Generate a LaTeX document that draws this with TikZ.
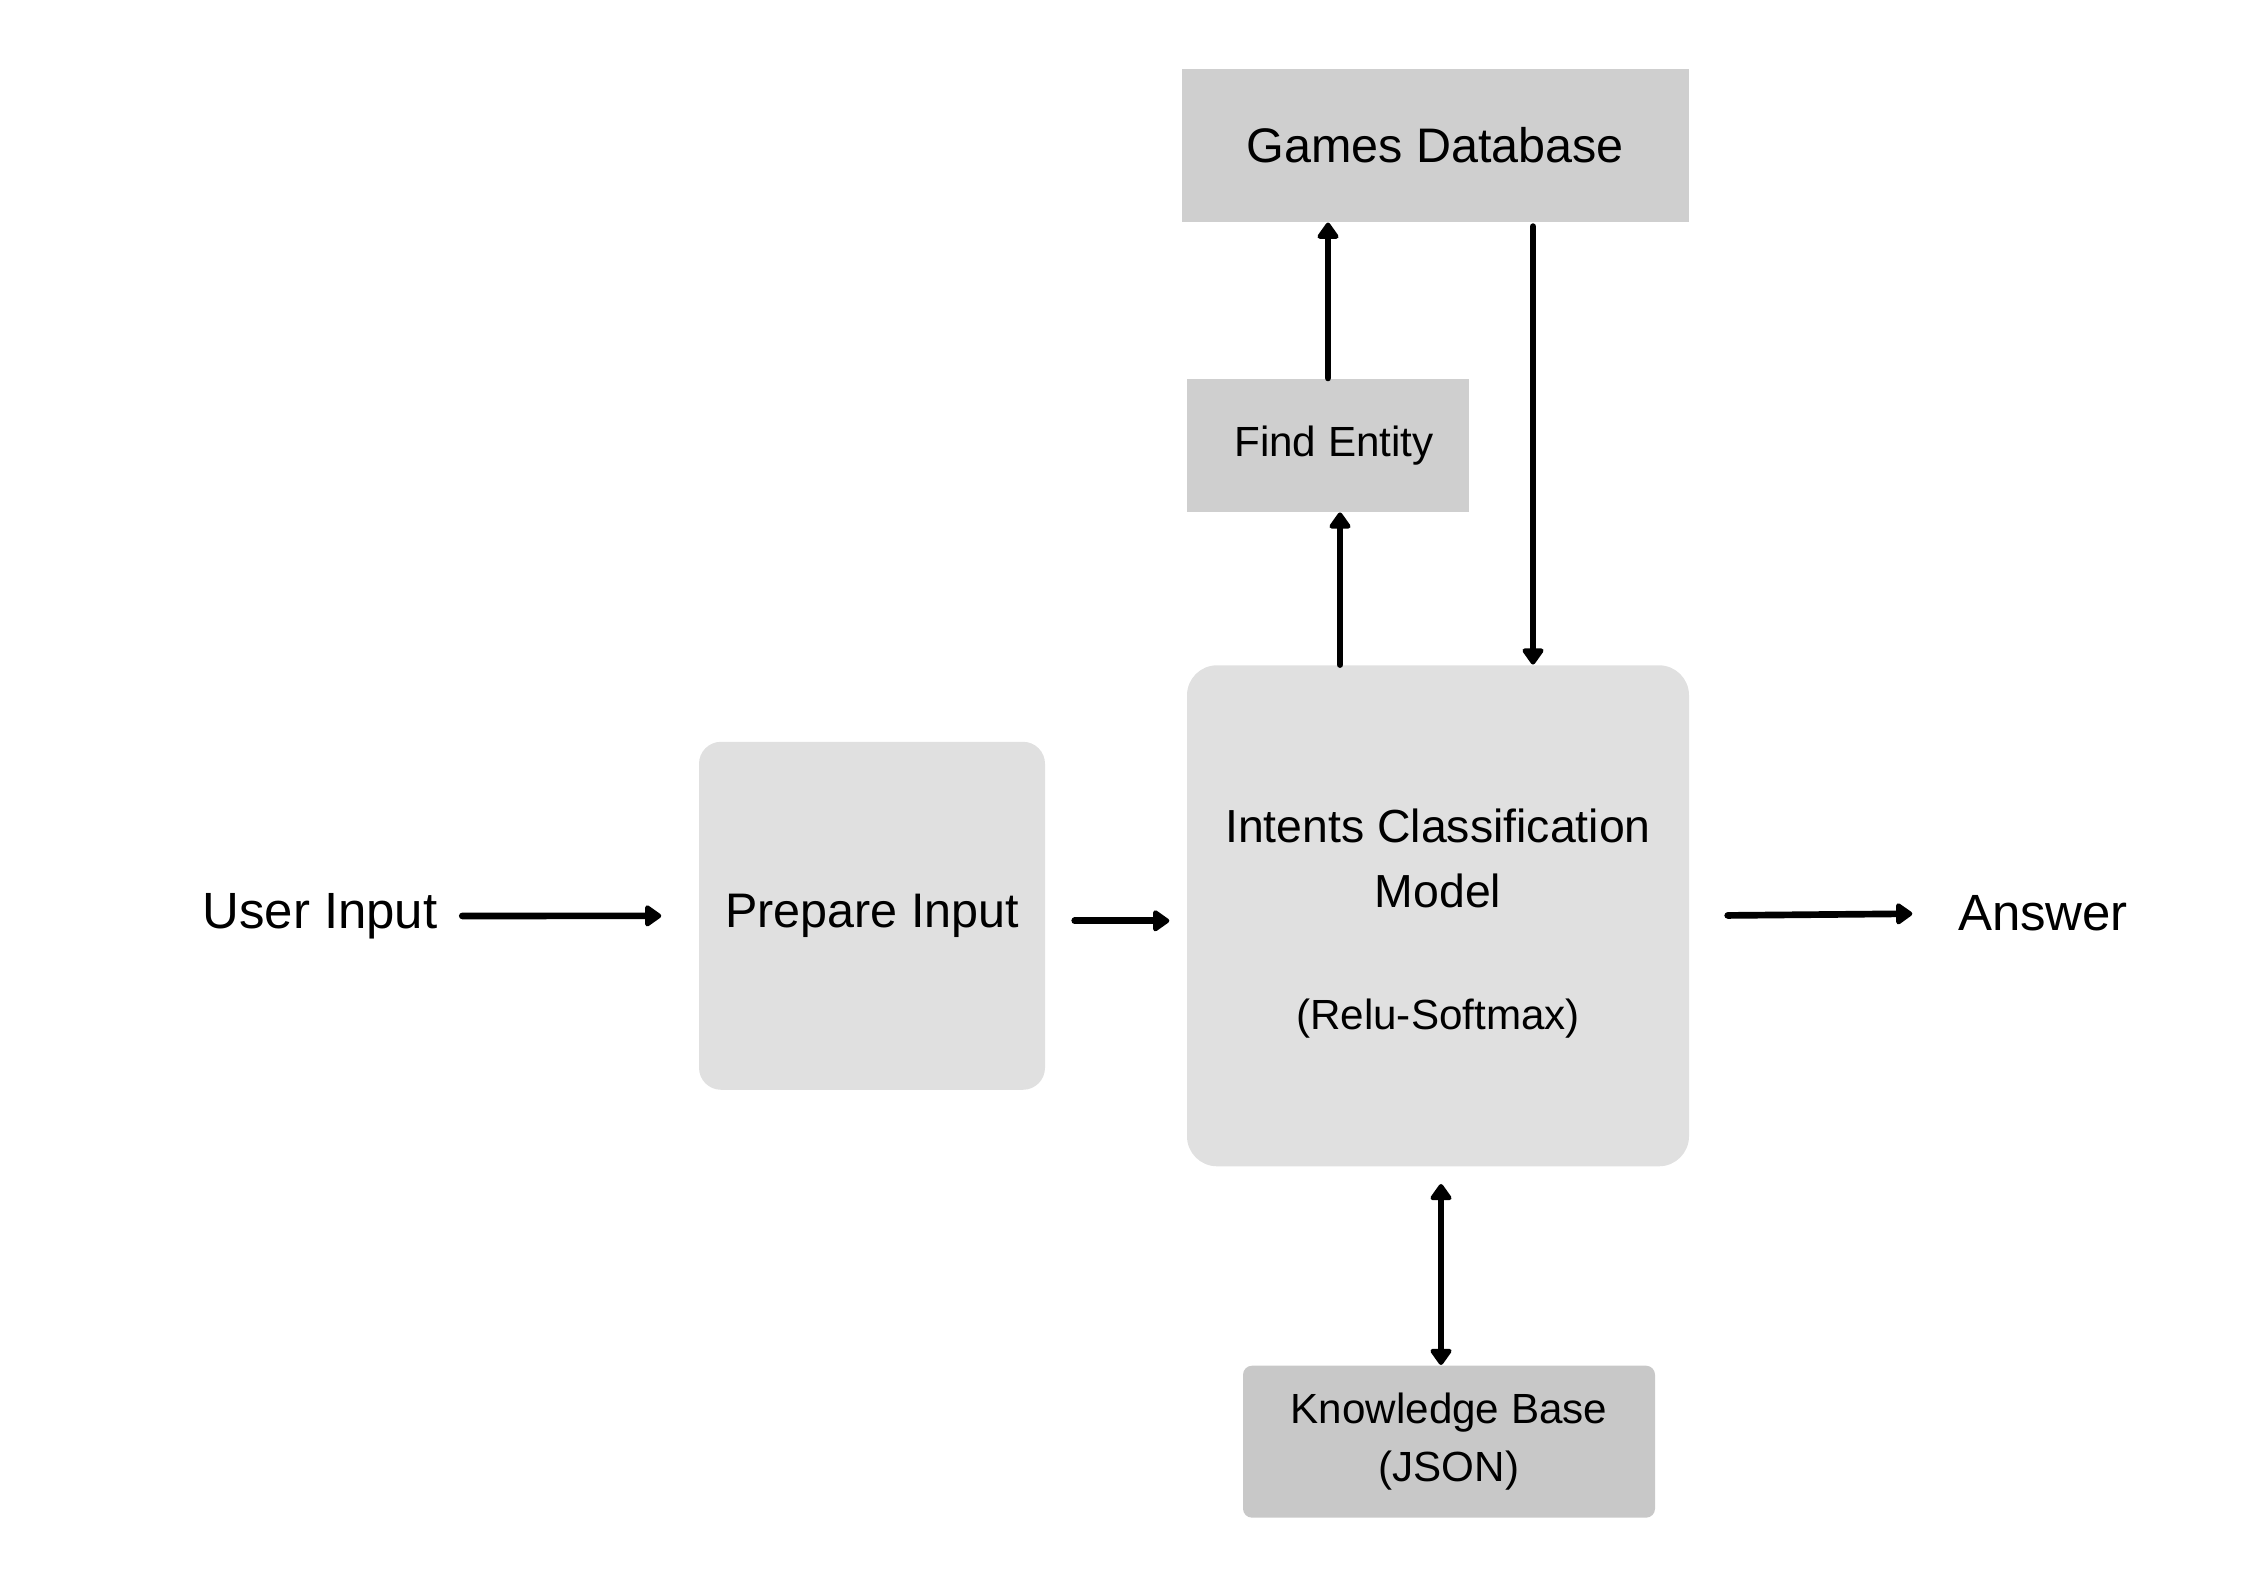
\documentclass[tikz,border=0pt]{standalone}
\usepackage{fontspec}
\setmainfont{Liberation Sans}
\usetikzlibrary{arrows.meta}
\begin{document}
\begin{tikzpicture}[
        caja/.style={fill=#1, inner sep=0pt, align=center},
        texto/.style={inner sep=0pt, font=\fontsize{14.5}{17}\selectfont},
        flecha/.style={-{Triangle[length=1.8mm,width=2.4mm,round]}, line width=1.9pt, line cap=round},
    ]
    %colores
    \colorlet{gris}{black!19}
    \colorlet{grisclaro}{black!12}

    \useasboundingbox (0,0) rectangle (22.45,15.87);

    % cajas
    \node[caja=gris, minimum width=5.07cm, minimum height=1.53cm,
        font=\fontsize{13.8}{17}\selectfont] (games) at (14.35,14.416) {Games Database};
    \node[caja=gris, minimum width=2.82cm, minimum height=1.33cm,
        font=\fontsize{12}{15}\selectfont] (find) at (13.28,11.418) {\hspace{1.2mm}\raisebox{-0.5mm}{Find Entity}};
    \node[caja=grisclaro, rounded corners=3mm, minimum width=5.02cm, minimum height=5.01cm,
        font=\fontsize{13.2}{18.5}\selectfont] (intents) at (14.38,6.712)
        {\rule{0pt}{14pt}Intents Classification\\Model\\[16pt]{\fontsize{12}{18.5}\selectfont(Relu-Softmax)}};
    \node[caja=grisclaro, rounded corners=2.2mm, minimum width=3.46cm, minimum height=3.48cm,
        font=\fontsize{13.8}{17}\selectfont] (prep) at (8.72,6.712) {Prepare Input};
    \node[caja=gris!97!black, rounded corners=0.9mm, minimum width=4.12cm, minimum height=1.52cm,
        font=\fontsize{12}{16.5}\selectfont] (kb) at (14.49,1.453) {Knowledge Base\\(JSON)};

    % entrada y salida
    \node[texto] (user) at (3.20,6.71) {User Input};
    \node[texto] (answer) at (20.43,6.737) {Answer};

    % flechas
    \draw[flecha, shorten <=2.4mm, shorten >=3.7mm] (user) -- (prep);
    \draw[flecha, shorten <=2.9mm, shorten >=1.7mm] ([yshift=-0.5mm]prep.east) -- ([yshift=-0.5mm]intents.west);
    \draw[flecha, shorten <=3.8mm, shorten >=4.5mm] (intents.east) -- (answer.west);
    \draw[flecha] ([xshift=1.2mm]find.south |- intents.north) -- ([xshift=1.2mm]find.south);
    \draw[flecha] (find.north) -- (find.north |- games.south);
    \draw[flecha, shorten <=0.4mm] ([xshift=9.8mm]games.south) -- ([xshift=9.8mm]games.south |- intents.north);
    \draw[flecha, {Triangle[length=1.8mm,width=2.4mm,round]}-{Triangle[length=1.8mm,width=2.4mm,round]}, shorten <=1.7mm]
        ([xshift=0.3mm]intents.south) -- ([xshift=0.3mm]intents.south |- kb.north);
\end{tikzpicture}
\end{document}
